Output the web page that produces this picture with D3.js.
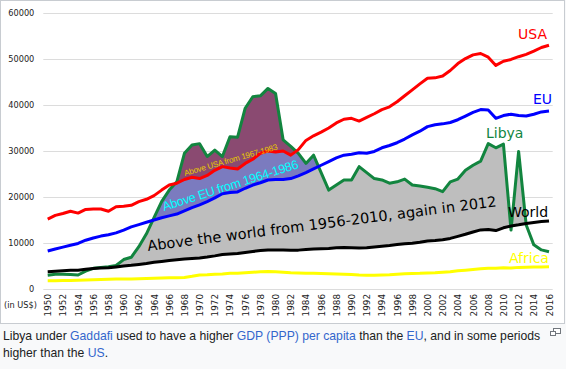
<!DOCTYPE html>
<html>
<head>
<meta charset="utf-8">
<script src="https://cdn.jsdelivr.net/npm/d3@7"></script>
<style>
  body { margin: 0; background: #f8f9fa; width: 566px; height: 369px; overflow: hidden; position: relative; }
  svg { position: absolute; left: 0; top: 0; }
  .caption {
    position: absolute; left: 3px; top: 328px; width: 546px;
    font-family: "Liberation Sans", Arial, sans-serif; font-size: 12.2px; line-height: 16.6px;
    color: #202122;
  }
  .caption a { color: #3366cc; text-decoration: none; }
  .tick text { font-family: "DejaVu Sans", sans-serif; fill: #222; }
</style>
</head>
<body>
<svg id="chart" width="566" height="369"></svg>
<div class="caption">Libya under <a>Gaddafi</a> used to have a higher <a>GDP (PPP) per capita</a> than the <a>EU</a>, and in some periods higher than the <a>US</a>.</div>
<script>
// GDP (PPP) per capita, 1950-2016
const years = d3.range(1950, 2017);

const usa = [15200, 16000, 16400, 16900, 16500, 17300, 17400, 17400, 16900, 17900,
  18000, 18200, 19000, 19500, 20300, 21500, 22600, 23000, 23800, 24300,
  24000, 24700, 25800, 26600, 26300, 26100, 27300, 28200, 29500, 30000,
  29800, 30000, 29100, 30300, 32300, 33300, 34100, 35000, 36100, 36900,
  37100, 36500, 37300, 38100, 39000, 39600, 40700, 42000, 43300, 44600,
  45800, 45900, 46300, 47500, 49000, 50100, 50900, 51200, 50400, 48600,
  49500, 49900, 50500, 51000, 51700, 52500, 53000];

const eu = [8250, 8700, 9100, 9500, 9900, 10600, 11100, 11500, 11800, 12200,
  12800, 13500, 14000, 14500, 15000, 15500, 15900, 16300, 17000, 17700,
  18300, 19000, 19800, 20700, 21000, 21100, 21900, 22600, 23100, 23700,
  23800, 23800, 24000, 24600, 25300, 26100, 26900, 27700, 28500, 29100,
  29300, 29600, 29500, 29900, 30700, 31200, 31800, 32600, 33500, 34300,
  35300, 35700, 35900, 36200, 36800, 37600, 38400, 39000, 38900, 37100,
  37700, 38000, 37700, 37600, 38000, 38500, 38700];

const libya = [3000, 3200, 3200, 3150, 3050, 3900, 4500, 4700, 4850, 5100,
  6400, 6900, 9200, 12000, 15500, 19000, 21500, 23300, 29500, 31300,
  31600, 28800, 30200, 28800, 33100, 33000, 39300, 41800, 42000, 43600,
  42500, 32400, 31000, 29500, 27300, 29100, 25300, 21500, 22600, 23700,
  23700, 26600, 25300, 24000, 23700, 23000, 23300, 23900, 22600, 22400,
  22100, 21800, 21150, 23300, 23900, 25800, 26900, 27800, 31600, 30700,
  31500, 12800, 29900, 13900, 9600, 8500, 8100];

const world = [3750, 3850, 3950, 4050, 4100, 4300, 4450, 4550, 4600, 4800,
  5000, 5150, 5350, 5550, 5800, 6000, 6200, 6350, 6500, 6650,
  6750, 6950, 7200, 7500, 7600, 7700, 7950, 8150, 8350, 8500,
  8500, 8500, 8400, 8450, 8600, 8700, 8750, 8800, 8950, 9000,
  8950, 8900, 8950, 9150, 9300, 9450, 9650, 9850, 9950, 10150,
  10450, 10550, 10700, 11000, 11450, 11900, 12400, 12850, 12950, 12700,
  13300, 13700, 13950, 14250, 14450, 14650, 14800];

const africa = [1800, 1820, 1850, 1870, 1900, 1950, 2000, 2050, 2100, 2150,
  2200, 2200, 2250, 2300, 2350, 2400, 2450, 2450, 2500, 2750,
  3050, 3100, 3200, 3250, 3400, 3450, 3550, 3650, 3750, 3800,
  3750, 3650, 3550, 3500, 3450, 3400, 3350, 3300, 3250, 3200,
  3150, 3050, 3000, 3000, 3050, 3100, 3200, 3300, 3350, 3400,
  3500, 3550, 3650, 3750, 3950, 4100, 4250, 4400, 4500, 4500,
  4600, 4550, 4700, 4750, 4800, 4800, 4850];

const yTicks = [0, 10000, 20000, 30000, 40000, 50000, 60000];
const xTicks = d3.range(1950, 2017, 2);

const svg = d3.select("#chart");

// white picture box with its frame
svg.append("rect")
  .attr("x", 0.5).attr("y", 0.5)
  .attr("width", 564).attr("height", 323)
  .attr("fill", "#fff").attr("stroke", "#c8ccd1");

const x = d3.scaleLinear().domain([1950, 2016]).range([47.7, 549]);
const y = d3.scaleLinear().domain([0, 60000]).range([289, 13]);

// grid + y labels
const yAxis = svg.append("g")
  .attr("transform", "translate(552.7,0)")
  .call(d3.axisLeft(y).tickValues(yTicks).tickSize(509.4).tickPadding(9).tickFormat(d3.format("d")));
yAxis.select(".domain").remove();
yAxis.selectAll(".tick line").attr("stroke", "#dcdcdc");
yAxis.selectAll(".tick text").attr("font-size", 8.2);

const xAxis = svg.append("g")
  .attr("transform", "translate(0,289)")
  .call(d3.axisBottom(x).tickValues(xTicks).tickSize(0).tickFormat(d3.format("d")));
xAxis.select(".domain").remove();
xAxis.selectAll(".tick text")
  .attr("font-size", 8.8)
  .attr("transform", "rotate(-90)")
  .attr("text-anchor", "end")
  .attr("x", -5).attr("y", 0).attr("dy", "0.34em");

svg.append("text")
  .attr("x", 4).attr("y", 308)
  .attr("font-family", "DejaVu Sans, sans-serif").attr("font-size", 8.2)
  .attr("fill", "#222")
  .text("(in US$)");

const rows = years.map((yr, i) => ({
  year: yr, usa: usa[i], eu: eu[i], libya: libya[i], world: world[i], africa: africa[i]
}));

// clip regions: everything above a given line
const defs = svg.append("defs");
["world", "eu", "usa"].forEach(k => {
  defs.append("clipPath").attr("id", "above-" + k)
    .append("path")
    .attr("d", d3.area().x(d => x(d.year)).y0(0).y1(d => y(d[k]))(rows));
});

const fills = [
  {key: "world", color: "#bebebe"},
  {key: "eu", color: "#7b7bbf"},
  {key: "usa", color: "#8a4a71"}
];
fills.forEach(f => {
  svg.append("path")
    .attr("clip-path", "url(#above-" + f.key + ")")
    .attr("fill", f.color)
    .attr("d", d3.area().x(d => x(d.year)).y0(d => y(d[f.key])).y1(d => y(d.libya))(rows));
});

const series = [
  {key: "libya", color: "#12853f"},
  {key: "africa", color: "#ffff00"},
  {key: "world", color: "#000"},
  {key: "eu", color: "#0000ff"},
  {key: "usa", color: "#ff0000"}
];
const line = k => d3.line().x(d => x(d.year)).y(d => y(d[k]));
series.forEach(s => {
  svg.append("path")
    .attr("fill", "none")
    .attr("stroke", s.color)
    .attr("stroke-width", 3)
    .attr("stroke-linejoin", "round")
    .attr("d", line(s.key)(rows));
});

// series names
const names = [
  {text: "USA", x: 518, y: 39.3, color: "#ff0000"},
  {text: "EU", x: 533, y: 104.3, color: "#0000ff"},
  {text: "Libya", x: 486, y: 137.7, color: "#12853f"},
  {text: "World", x: 508, y: 216.7, color: "#000"},
  {text: "Africa", x: 509, y: 263.3, color: "#ffff00"}
];
svg.selectAll(".name").data(names).enter().append("text")
  .attr("class", "name")
  .attr("x", d => d.x).attr("y", d => d.y)
  .attr("font-family", "DejaVu Sans, sans-serif").attr("font-size", 14)
  .attr("fill", d => d.color)
  .text(d => d.text);

// notes on the shaded areas (len = wanted length along the baseline)
const notes = [
  {text: "Above USA from 1967-1983", x: 185, y: 176, angle: -16, size: 8.2, len: 97,
   font: "Liberation Sans, Arial, sans-serif", color: "#e8c800"},
  {text: "Above EU from 1964-1986", x: 164, y: 211, angle: -17.7, size: 12.5, len: 142,
   font: "Liberation Sans, Arial, sans-serif", color: "#00ffff"},
  {text: "Above the world from 1956-2010, again in 2012", x: 148, y: 251, angle: -7.3, size: 14.5, len: 352,
   font: "DejaVu Sans, sans-serif", color: "#000"}
];
svg.selectAll(".note").data(notes).enter().append("text")
  .attr("class", "note")
  .attr("transform", d => `translate(${d.x},${d.y}) rotate(${d.angle})`)
  .attr("font-family", d => d.font)
  .attr("font-size", d => d.size)
  .attr("fill", d => d.color)
  .text(d => d.text)
  .each(function(d) {
    const natural = this.getComputedTextLength();
    const gap = (d.len - natural) / (d.text.length - 1);
    d3.select(this).attr("letter-spacing", gap.toFixed(2));
  });

// enlarge icon in the caption
const icon = svg.append("g").attr("fill", "#fff").attr("stroke", "#72777d");
icon.append("rect").attr("x", 553.5).attr("y", 328.5).attr("width", 7).attr("height", 5);
icon.append("rect").attr("x", 550.5).attr("y", 331.5).attr("width", 5).attr("height", 4);
</script>
</body>
</html>
